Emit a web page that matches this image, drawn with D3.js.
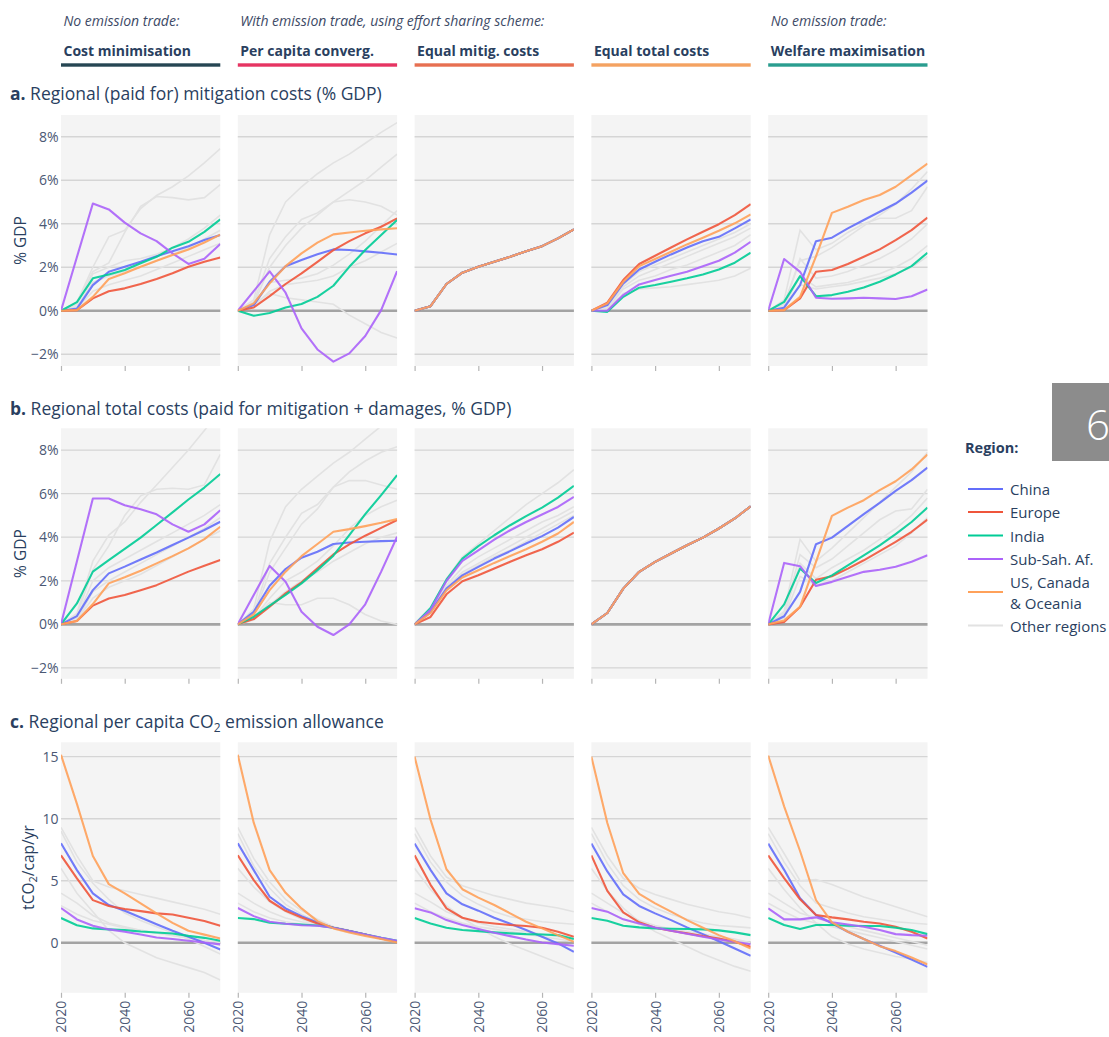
<!DOCTYPE html>
<html><head><meta charset="utf-8">
<script src="https://cdn.jsdelivr.net/npm/d3@7"></script>
<style>
body{margin:0;background:#fff;}
svg{display:block;font-family:"Open Sans",sans-serif;}
</style>
</head><body>
<svg id="chart" width="1109" height="1037"></svg>
<script>
// ---------- data ----------
const years = [2020,2025,2030,2035,2040,2045,2050,2055,2060,2065,2070];
const scenarios = ["Cost minimisation","Per capita converg.","Equal mitig. costs","Equal total costs","Welfare maximisation"];
const scenarioNotes = ["No emission trade:","With emission trade, using effort sharing scheme:","","","No emission trade:"];
const scenarioColors = ["#264653","#e63462","#e76f51","#f4a261","#2a9d8f"];
const regions = ["China","Europe","India","Sub-Sah. Af.","US, Canada & Oceania"];
const regionColors = ["#636efa","#ef553b","#00cc96","#ab63fa","#ffa15a"];
const otherLabel = "Other regions";
const otherColor = "#e2e2e2";
const yTicksPct = [-2,0,2,4,6,8];
const yTicksCO2 = [0,5,10,15];
const xTicks = [2020,2040,2060];

// a. mitigation costs (% GDP): one array per scenario
const mitEqual = [0,0.21,1.23,1.75,2.02,2.25,2.48,2.74,2.97,3.33,3.74];
const mitChina = [
  [0,0.1,1.18,1.79,2.02,2.25,2.51,2.74,2.97,3.25,3.48],
  [0,0.26,1.33,2.05,2.33,2.6,2.82,2.79,2.73,2.67,2.59],
  mitEqual,
  [0,0.26,1.26,1.9,2.25,2.59,2.91,3.2,3.4,3.79,4.2],
  [0,0.14,1.18,3.2,3.36,3.79,4.17,4.55,4.93,5.43,5.98]];
const mitEurope = [
  [0,0.03,0.57,0.9,1.03,1.23,1.46,1.72,2.02,2.25,2.45],
  [0,0.15,0.67,1.23,1.72,2.25,2.79,3.2,3.56,3.86,4.25],
  mitEqual,
  [0,0.37,1.41,2.15,2.53,2.91,3.28,3.63,3.98,4.4,4.9],
  [0,0.03,0.57,1.79,1.87,2.15,2.48,2.82,3.25,3.71,4.28]];
const mitIndia = [
  [0,0.4,1.49,1.67,1.87,2.18,2.48,2.9,3.17,3.63,4.2],
  [0,-0.23,-0.1,0.15,0.31,0.64,1.15,2.02,2.79,3.48,4.17],
  mitEqual,
  [0,-0.05,0.64,1.06,1.18,1.33,1.49,1.67,1.9,2.21,2.67],
  [0,0.41,1.59,0.67,0.72,0.87,1.07,1.33,1.67,2.05,2.67]];
const mitSSA = [
  [0,2.47,4.93,4.66,4.05,3.56,3.2,2.64,2.15,2.39,3.07],
  [0,0.9,1.81,0.83,-0.81,-1.78,-2.34,-1.96,-1.16,0.03,1.82],
  mitEqual,
  [0,0,0.72,1.21,1.41,1.61,1.79,2.05,2.3,2.67,3.17],
  [0,2.38,1.79,0.6,0.55,0.57,0.6,0.57,0.54,0.67,0.98]];
const mitUS = [
  [0,0.03,0.64,1.46,1.72,2.02,2.3,2.56,2.82,3.14,3.5],
  [0,0.34,1.26,2.05,2.64,3.13,3.51,3.6,3.68,3.74,3.79],
  mitEqual,
  [0,0.34,1.33,2.05,2.38,2.71,3.05,3.36,3.68,4.02,4.43],
  [0,0.03,0.64,2.5,4.5,4.78,5.09,5.32,5.7,6.24,6.77]];
const mitOther = [
  [[0,0.4,2.0,3.4,3.7,4.7,5.3,5.7,6.2,6.8,7.45],
   [0,0.3,1.8,2.2,3.6,4.8,5.25,5.2,5.1,5.2,5.8],
   [0,0.3,1.7,2.0,2.3,2.4,2.6,2.9,3.3,3.8,4.4],
   [0,0.2,1.3,1.6,1.8,2.0,2.3,2.6,2.9,3.3,3.7],
   [0,0.1,0.9,1.2,1.4,1.6,1.9,2.2,2.5,2.8,3.1]],
  [[0,0.5,3.5,5.0,5.7,6.3,6.8,7.2,7.7,8.2,8.65],
   [0,0.4,2.4,3.4,4.2,4.5,5.0,5.5,6.0,6.6,7.2],
   [0,0.3,2.0,3.0,3.8,4.4,5.0,5.1,5.0,4.8,4.4],
   [0,0.2,1.3,1.4,1.5,1.7,2.1,2.6,3.2,3.9,4.6],
   [0,0.2,0.9,1.2,1.3,1.4,1.6,2.0,2.3,2.7,3.1],
   [0,0.3,0.8,0.6,0.5,0.4,0.3,-0.2,-0.6,-1.0,-1.25]],
  [mitEqual, mitEqual, mitEqual],
  [[0,0.2,1.2,1.8,2.1,2.4,2.7,3.0,3.3,3.6,4.0],
   [0,0.2,1.1,1.6,1.9,2.2,2.5,2.8,3.1,3.4,3.8],
   [0,0.1,1.0,1.4,1.6,1.9,2.1,2.4,2.7,3.0,3.5],
   [0,0.1,0.8,1.0,1.05,1.1,1.2,1.3,1.4,1.6,1.95]],
  [[0,0.5,3.7,2.8,3.1,3.6,4.0,4.25,4.25,4.6,5.7],
   [0,0.3,2.3,2.5,2.9,3.4,3.9,4.4,4.9,5.6,6.4],
   [0,0.3,2.4,1.5,1.6,1.8,2.1,2.4,2.8,3.3,4.0],
   [0,0.2,1.6,1.1,1.2,1.3,1.5,1.7,2.0,2.4,3.0],
   [0,0.2,1.2,1.0,1.1,1.2,1.35,1.5,1.7,2.0,2.5]]];

// b. total costs (% GDP)
const totEqual = [0,0.52,1.64,2.41,2.87,3.25,3.63,3.98,4.4,4.86,5.42];
const totChina = [
  [0,0.38,1.57,2.34,2.65,2.98,3.3,3.64,3.98,4.33,4.71],
  [0,0.58,1.77,2.54,3.06,3.33,3.69,3.76,3.79,3.82,3.84],
  [0,0.57,1.64,2.25,2.64,3.02,3.36,3.71,4.05,4.44,4.93],
  totEqual,
  [0,0.37,1.49,3.68,3.98,4.52,5.06,5.58,6.13,6.62,7.2]];
const totEurope = [
  [0,0.15,0.86,1.19,1.35,1.57,1.8,2.11,2.42,2.69,2.95],
  [0,0.24,0.81,1.42,1.93,2.57,3.21,3.67,4.07,4.43,4.79],
  [0,0.34,1.38,1.98,2.25,2.56,2.87,3.17,3.45,3.79,4.21],
  totEqual,
  [0,0.11,0.8,2.05,2.21,2.56,2.94,3.36,3.79,4.25,4.81]];
const totIndia = [
  [0,0.96,2.42,2.95,3.46,3.98,4.56,5.14,5.73,6.28,6.9],
  [0,0.35,0.86,1.35,1.88,2.49,3.15,4.1,5.06,5.93,6.85],
  [0,0.75,2.05,3.02,3.59,4.09,4.55,4.97,5.36,5.82,6.36],
  totEqual,
  [0,0.92,2.56,1.9,2.25,2.71,3.17,3.63,4.14,4.7,5.36]];
const totSSA = [
  [0,2.9,5.78,5.78,5.47,5.28,5.05,4.59,4.25,4.59,5.24],
  [0,1.35,2.68,1.95,0.58,-0.11,-0.49,0,0.92,2.42,4.02],
  [0,0.67,1.99,2.91,3.4,3.89,4.32,4.7,5.04,5.39,5.85],
  totEqual,
  [0,2.82,2.67,1.76,1.95,2.18,2.41,2.51,2.64,2.87,3.17]];
const totUS = [
  [0,0.15,0.93,1.88,2.16,2.46,2.8,3.13,3.49,3.91,4.48],
  [0,0.46,1.57,2.42,3.13,3.69,4.25,4.37,4.51,4.66,4.83],
  [0,0.52,1.56,2.15,2.48,2.82,3.14,3.45,3.79,4.17,4.7],
  totEqual,
  [0,0.18,0.8,2.87,4.98,5.36,5.7,6.16,6.57,7.11,7.8]];
const totOther = [
  [[0,0.5,2.9,4.1,4.7,5.6,6.4,7.2,8.0,8.9,9.8],
   [0,0.4,2.5,3.6,5.0,5.9,6.2,6.25,6.2,6.4,7.8],
   [0,0.3,2.0,2.6,3.0,3.4,3.8,4.2,4.6,5.0,5.5],
   [0,0.2,1.5,2.0,2.4,2.8,3.2,3.6,4.0,4.4,4.9],
   [0,0.2,1.2,1.7,2.0,2.3,2.7,3.1,3.5,3.9,4.3]],
  [[0,0.7,3.8,5.4,6.2,6.8,7.4,7.9,8.5,9.1,9.6],
   [0,0.5,2.8,4.0,5.1,5.5,6.3,7.0,7.5,7.9,8.15],
   [0,0.4,2.4,3.5,4.6,5.3,6.3,6.6,6.6,6.4,6.2],
   [0,0.3,1.2,2.0,2.4,2.9,3.6,4.4,5.0,5.4,5.7],
   [0,0.2,0.9,1.5,2.0,2.4,2.9,3.3,3.7,4.0,4.2],
   [0,0.3,1.0,0.9,0.9,1.2,1.2,0.9,0.45,0.15,0.0]],
  [[0,0.7,2.1,3.1,3.7,4.3,4.9,5.5,6.0,6.5,7.1],
   [0,0.6,1.8,2.6,3.1,3.5,3.9,4.3,4.7,5.0,5.4],
   [0,0.6,1.7,2.4,2.8,3.2,3.6,4.0,4.4,4.8,5.2],
   [0,0.5,1.7,2.3,2.7,3.1,3.4,3.8,4.2,4.6,5.0]],
  [totEqual, totEqual, totEqual],
  [[0,0.6,3.9,2.9,3.5,4.2,4.9,5.6,6.3,7.0,7.9],
   [0,0.5,3.2,2.6,3.0,3.6,4.2,4.8,5.2,5.3,6.2],
   [0,0.4,2.8,2.1,2.6,3.0,3.4,3.9,4.4,5.0,5.8],
   [0,0.3,2.2,1.8,2.0,2.4,2.8,3.2,3.6,4.2,4.9]]];

// c. per capita CO2 emission allowance (tCO2/cap/yr)
const co2China = [
  [8.03,5.86,3.98,3.04,2.58,2.04,1.5,0.97,0.48,0,-0.54],
  [8.03,5.86,3.71,2.77,2.15,1.64,1.21,0.94,0.67,0.35,0.13],
  [8.0,5.88,3.99,3.1,2.59,2.02,1.54,1.03,0.49,-0.05,-0.73],
  [8.0,5.75,3.91,2.97,2.37,1.83,1.24,0.7,0.13,-0.46,-1.05],
  [8.0,5.88,3.59,2.24,1.56,0.89,0.3,-0.24,-0.78,-1.35,-1.94]];
const co2Europe = [
  [7.05,5.19,3.44,2.96,2.72,2.55,2.37,2.28,2.02,1.75,1.37],
  [7.05,5.05,3.39,2.58,2.04,1.56,1.21,0.94,0.67,0.35,0.08],
  [7.05,4.67,2.78,2.02,1.7,1.56,1.43,1.35,1.21,0.89,0.49],
  [7.05,4.18,2.45,1.65,1.21,0.97,0.76,0.54,0.35,0.08,-0.32],
  [7.05,5.21,3.51,2.24,2.05,1.89,1.7,1.56,1.29,0.89,0.35]];
const co2India = [
  [2.0,1.42,1.16,1.08,1.02,0.91,0.83,0.75,0.56,0.4,0.16],
  [2.0,1.91,1.61,1.53,1.48,1.4,1.21,0.94,0.67,0.4,0.16],
  [2.0,1.56,1.21,1.03,0.94,0.84,0.76,0.7,0.67,0.62,0.3],
  [2.0,1.78,1.38,1.24,1.16,1.13,1.11,1.08,1.0,0.84,0.62],
  [2.0,1.43,1.11,1.43,1.43,1.38,1.35,1.35,1.21,1.03,0.7]];
const co2SSA = [
  [2.8,1.88,1.37,1.08,0.89,0.67,0.43,0.3,0.16,0.03,-0.13],
  [2.8,2.15,1.69,1.53,1.42,1.37,1.21,0.94,0.67,0.4,0.16],
  [2.78,2.45,1.83,1.43,1.11,0.81,0.54,0.27,0.03,-0.11,-0.24],
  [2.8,2.51,1.89,1.56,1.24,0.97,0.73,0.49,0.27,0.08,-0.11],
  [2.78,1.89,1.89,2.05,1.65,1.48,1.29,1.03,0.7,0.62,0.57]];
const co2US = [
  [15.15,11.2,7.0,4.73,3.98,3.17,2.37,1.61,0.97,0.66,0.35],
  [15.15,9.68,5.86,4.03,2.77,1.75,1.16,0.83,0.56,0.3,0.03],
  [15.0,9.93,5.93,4.32,3.64,3.05,2.37,1.7,1.16,0.62,0.08],
  [15.0,9.66,5.61,3.94,3.18,2.51,1.83,1.21,0.62,0.13,-0.46],
  [15.1,11.0,7.4,3.45,1.65,0.89,0.3,-0.27,-0.67,-1.19,-1.75]];
const co2Other = [
  [[9.3,7.0,5.0,4.5,4.2,3.9,3.6,3.3,3.0,2.7,2.3],
   [9.0,6.5,4.8,3.5,2.4,1.8,1.3,0.8,0.3,-0.3,-0.9],
   [6.0,4.0,2.5,1.0,0.0,-0.6,-1.2,-1.6,-2.0,-2.4,-3.0],
   [4.0,3.2,2.2,1.6,1.3,1.0,0.8,0.6,0.4,0.1,-0.2],
   [3.0,2.3,1.8,1.5,1.2,1.0,0.8,0.6,0.4,0.2,0.0]],
  [[9.3,6.8,4.9,3.5,2.6,1.9,1.3,1.0,0.7,0.4,0.15],
   [8.8,6.2,4.4,3.1,2.3,1.7,1.25,0.95,0.67,0.4,0.15],
   [6.0,4.5,3.3,2.5,1.9,1.5,1.2,0.94,0.67,0.4,0.15],
   [4.0,3.2,2.5,2.0,1.7,1.45,1.2,0.94,0.67,0.4,0.15],
   [3.2,2.5,2.0,1.7,1.5,1.4,1.2,0.94,0.67,0.4,0.15]],
  [[9.3,7.0,5.3,4.6,4.2,3.8,3.5,3.2,3.0,2.8,2.5],
   [8.8,6.5,4.9,3.8,3.1,2.5,2.1,1.9,1.7,1.6,1.5],
   [6.0,4.3,3.0,2.0,1.2,0.5,-0.1,-0.6,-1.1,-1.6,-2.1],
   [4.0,3.3,2.5,2.0,1.6,1.3,1.1,0.9,0.7,0.5,0.3],
   [3.2,2.5,2.0,1.6,1.3,1.1,0.9,0.7,0.5,0.3,0.1]],
  [[9.3,7.0,5.2,4.4,3.9,3.5,3.1,2.8,2.5,2.3,2.0],
   [8.8,6.4,4.6,3.5,2.8,2.3,1.9,1.6,1.4,1.3,1.2],
   [6.0,4.2,2.8,1.7,0.9,0.3,-0.3,-0.9,-1.4,-1.9,-2.3],
   [4.0,3.2,2.4,1.8,1.4,1.1,0.9,0.7,0.5,0.3,0.0],
   [3.2,2.5,1.9,1.5,1.2,1.0,0.8,0.6,0.4,0.2,-0.1]],
  [[9.3,7.2,5.0,5.1,4.7,4.2,3.7,3.3,2.9,2.5,2.1],
   [8.8,6.5,4.6,3.2,2.8,2.4,2.1,1.9,1.7,1.6,1.5],
   [6.0,4.3,2.8,1.6,0.5,-0.1,-0.5,-0.8,-1.1,-1.3,-1.6],
   [4.0,3.2,2.4,2.0,1.6,1.3,1.0,0.7,0.4,0.1,-0.2],
   [3.2,2.5,1.9,1.6,1.3,1.0,0.7,0.4,0.1,-0.2,-0.5]]];

// ---------- layout ----------
const svg = d3.select("#chart");
const textCol = "#2a3f5f", tickCol = "#4b5874";
const panelX0 = 61, panelStep = 176.8, panelW = 159.3;
const pctFmt = d => (d < 0 ? "\u2212" + (-d) : d) + "%";
const rows = [
  {key:"a", top:115, h:251, domain:[-2.54,9.0], ticks:yTicksPct, fmt:pctFmt, titleY:100,
   title:" Regional (paid for) mitigation costs (% GDP)", ytitle:"% GDP", ytx:20,
   series:[mitChina,mitEurope,mitIndia,mitSSA,mitUS], other:mitOther, labels:false},
  {key:"b", top:428.3, h:250.5, domain:[-2.5,9.0], ticks:yTicksPct, fmt:pctFmt, titleY:414.5,
   title:" Regional total costs (paid for mitigation + damages, % GDP)", ytitle:"% GDP", ytx:20,
   series:[totChina,totEurope,totIndia,totSSA,totUS], other:totOther, labels:false},
  {key:"c", top:742.3, h:250.5, domain:[-4.03,16.16], ticks:yTicksCO2, fmt:d=>d, titleY:727.5,
   title:null, ytitle:null, ytx:28,
   series:[co2China,co2Europe,co2India,co2SSA,co2US], other:co2Other, labels:true}
];

// header
scenarios.forEach((s,i) => {
  const x = panelX0 + i*panelStep;
  if (scenarioNotes[i]) svg.append("text").attr("x", x+2.5).attr("y", 26)
    .attr("font-size", 14).attr("font-style","italic").attr("fill","#3d4a66").text(scenarioNotes[i]);
  svg.append("text").attr("x", x+2.5).attr("y", 56).attr("font-size", 14)
    .attr("font-weight","bold").attr("fill", textCol).text(s);
  svg.append("rect").attr("x", x).attr("y", 63.3).attr("width", panelW).attr("height", 3.4)
    .attr("fill", scenarioColors[i]);
});

const x = d3.scaleLinear().domain([2020,2070]);
const defs = svg.append("defs");

rows.forEach((r, ri) => {
  // row title
  const t = svg.append("text").attr("x", 10).attr("y", r.titleY).attr("font-size", 17.5).attr("fill", textCol);
  t.append("tspan").attr("font-weight","bold").text(r.key + ".");
  if (r.title) t.append("tspan").text(r.title);
  else {
    t.append("tspan").text(" Regional per capita CO");
    t.append("tspan").attr("font-size", 12).attr("dy", 4.5).text("2");
    t.append("tspan").attr("dy", -4.5).text(" emission allowance");
  }
  const y = d3.scaleLinear().domain(r.domain).range([r.top + r.h, r.top]);
  // y title
  const yt = svg.append("text").attr("transform", `translate(${r.ytx},${r.top + r.h/2}) rotate(-90)`)
    .attr("text-anchor","middle").attr("dominant-baseline","central").attr("font-size", 15.5).attr("fill", textCol);
  if (r.ytitle) yt.text(r.ytitle);
  else {
    yt.append("tspan").text("tCO");
    yt.append("tspan").attr("font-size", 11).attr("dy", 4).text("2");
    yt.append("tspan").attr("dy", -4).text("/cap/yr");
  }

  scenarios.forEach((s, si) => {
    const x0 = panelX0 + si*panelStep;
    const xs = x.copy().range([x0, x0 + panelW]);
    const g = svg.append("g");
    const cid = `clip-${ri}-${si}`;
    defs.append("clipPath").attr("id", cid).append("rect")
      .attr("x", x0).attr("y", r.top).attr("width", panelW).attr("height", r.h);
    g.append("rect").attr("x", x0).attr("y", r.top).attr("width", panelW).attr("height", r.h).attr("fill", "#f4f4f4");
    // grid
    r.ticks.forEach(v => {
      g.append("line").attr("x1", x0).attr("x2", x0 + panelW).attr("y1", y(v)).attr("y2", y(v))
        .attr("stroke", v === 0 ? "#a3a3a3" : "#d5d5d5").attr("stroke-width", v === 0 ? 2.6 : 1.3);
    });
    // x axis
    const xa = g.append("g").attr("transform", `translate(0,${r.top + r.h})`)
      .call(d3.axisBottom(xs).tickValues(xTicks).tickSize(5).tickFormat(r.labels ? d3.format("d") : ""));
    xa.select(".domain").remove();
    xa.selectAll(".tick line").attr("stroke", "#b5b5b5").attr("stroke-width", 1.2);
    if (r.labels) {
      xa.selectAll(".tick text").attr("transform", "translate(0,8) rotate(-90)")
        .attr("text-anchor","end").attr("dy","0.35em").attr("x", 0).attr("y", 0)
        .attr("font-family", '"Open Sans",sans-serif').attr("font-size", 14).attr("fill", tickCol);
    }
    // y axis labels on first panel
    if (si === 0) {
      const ya = g.append("g").attr("transform", `translate(${x0},0)`)
        .call(d3.axisLeft(y).tickValues(r.ticks).tickSize(0).tickPadding(2.5).tickFormat(r.fmt));
      ya.select(".domain").remove();
      ya.selectAll(".tick text").attr("font-family", '"Open Sans",sans-serif').attr("font-size", 14).attr("fill", tickCol);
    }
    const line = d3.line().x((d,i) => xs(years[i])).y(d => y(d));
    const lg = g.append("g").attr("clip-path", `url(#${cid})`);
    r.other[si].forEach(vals => {
      lg.append("path").attr("d", line(vals)).attr("fill","none").attr("stroke", otherColor).attr("stroke-width", 1.6);
    });
    r.series.forEach((ser, k) => {
      lg.append("path").attr("d", line(ser[si])).attr("fill","none").attr("stroke", regionColors[k])
        .attr("stroke-width", 2.1).attr("stroke-linejoin","round").attr("opacity", 0.9);
    });
  });
});

// legend
svg.append("text").attr("x", 965).attr("y", 453).attr("font-size", 14.5).attr("font-weight","bold").attr("fill", textCol).text("Region:");
const legendItems = regions.map((n,i) => ({name:n, color:regionColors[i]})).concat([{name:otherLabel, color:otherColor}]);
const legendY = [489, 512, 535.5, 559, 592, 625.5];
legendItems.forEach((it, i) => {
  const ly = legendY[i];
  svg.append("line").attr("x1", 968).attr("x2", 1003).attr("y1", ly).attr("y2", ly)
    .attr("stroke", it.color).attr("stroke-width", 2.2);
  const tx = svg.append("text").attr("x", 1010).attr("font-size", 15).attr("fill", textCol);
  if (it.name === "US, Canada & Oceania") {
    tx.attr("y", ly - 10).attr("dominant-baseline","central");
    tx.append("tspan").attr("x", 1010).text("US, Canada");
    tx.append("tspan").attr("x", 1010).attr("dy", 20.5).text("& Oceania");
  } else {
    tx.attr("y", ly).attr("dominant-baseline","central").text(it.name);
  }
});

// chapter tab
svg.append("rect").attr("x", 1052).attr("y", 383).attr("width", 57).attr("height", 78).attr("fill", "#8c8c8c");
svg.append("text").attr("x", 1086).attr("y", 440).attr("font-size", 42).attr("font-weight", 300)
  .attr("fill", "#fff").text("6");
</script>
</body></html>
